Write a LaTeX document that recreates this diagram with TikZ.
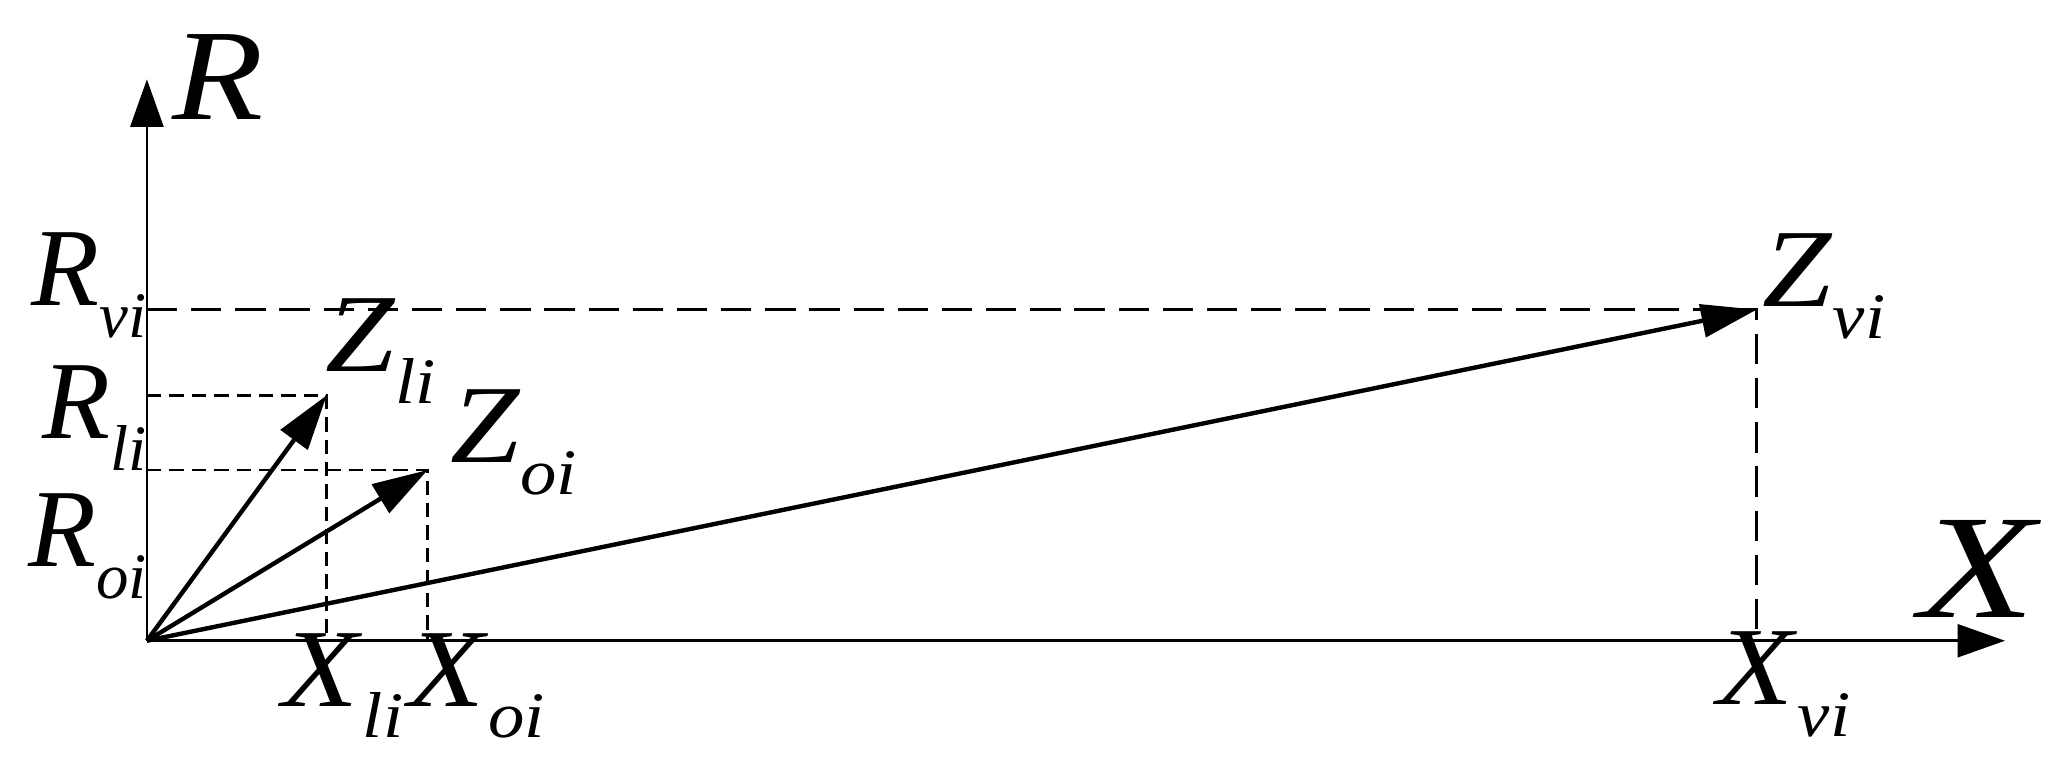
\documentclass[tikz,border=0pt]{standalone}
\usepackage{fontspec}
\usepackage{graphicx}
\setmainfont{Liberation Serif}
\usetikzlibrary{arrows.meta,positioning}
\tikzset{>={Triangle[length=0.36cm,width=0.25cm]}}
\newcommand{\sym}[3][1.12]{\scalebox{#1}[1]{\textit{#2}\raisebox{-0.24cm}{\fontsize{14}{14}\selectfont\textit{#3}}}}

\begin{document}
\begin{tikzpicture}[x=0.01cm,y=-0.01cm,
    axis/.style={line width=0.57pt,->},
    vec/.style={line width=0.95pt,-{Triangle[length=0.42cm,width=0.25cm]}},
    proj/.style={line width=0.57pt,dash pattern=on 0.23cm off 0.105cm},
    projshort/.style={line width=0.57pt,dash pattern=on 0.11cm off 0.06cm},
    lbl/.style={inner sep=0pt,anchor=base west,font=\fontsize{24}{24}\selectfont},
    axlbl/.style={inner sep=0pt,anchor=base west}]
    \useasboundingbox (0,0) rectangle (1568,585);
    % points
    \coordinate (O) at (111.5,486.3);
    \coordinate (Rtop) at (111.5,60.2);
    \coordinate (Xend) at (1521.7,486.3);
    \coordinate (Zv) at (1333.2,235);
    \coordinate (Zl) at (248,300);
    \coordinate (Zo) at (324.6,356.7);
    \coordinate (Rv) at (O |- Zv);
    \coordinate (Rl) at (O |- Zl);
    \coordinate (Ro) at (O |- Zo);
    \coordinate (Xv) at (Zv |- O);
    \coordinate (Xl) at (Zl |- O);
    \coordinate (Xo) at (Zo |- O);
    % axes
    \draw [axis] (O) -- (Rtop);
    \draw [axis] (O) -- (Xend);
    % projections
    \draw [proj] (Rv) -- (Zv) -- (Xv);
    \draw [projshort] (Rl) -- (Zl) -- (Xl);
    \draw [projshort] (Ro) -- (Zo) -- (Xo);
    % vectors
    \draw [vec] (O) -- (Zl);
    \draw [vec] (O) -- (Zo);
    \draw [vec] (O) -- (Zv);
    % labels
    \node (labR) at (130,90.6) [axlbl,font=\fontsize{28}{28}\selectfont] {\scalebox{1.15}[1]{\textit{R}}};
    \node (labX) at (1456,469) [axlbl,font=\fontsize{32}{32}\selectfont] {\scalebox{1.28}[1]{\textit{X}}};
    \node (labRv) at (112,232) [lbl,anchor=base east] {\sym[1]{R}{vi}};
    \node (labRl) at (112,333) [lbl,anchor=base east] {\sym[1]{R}{li}};
    \node (labRo) at (112,430) [lbl,anchor=base east] {\sym[1]{R}{oi}};
    \node (labZl) at (246,282) [lbl] {\sym{Z}{li}};
    \node (labZo) at (341,351) [lbl] {\sym{Z}{oi}};
    \node (labZv) at (1337,233) [lbl] {\sym{Z}{vi}};
    \node (labXl) at (214,536) [lbl] {\sym{X}{li}};
    \node (labXo) at (309,536) [lbl] {\sym{X}{oi}};
    \node (labXv) at (1303,535) [lbl] {\sym{X}{vi}};
\end{tikzpicture}
\end{document}
